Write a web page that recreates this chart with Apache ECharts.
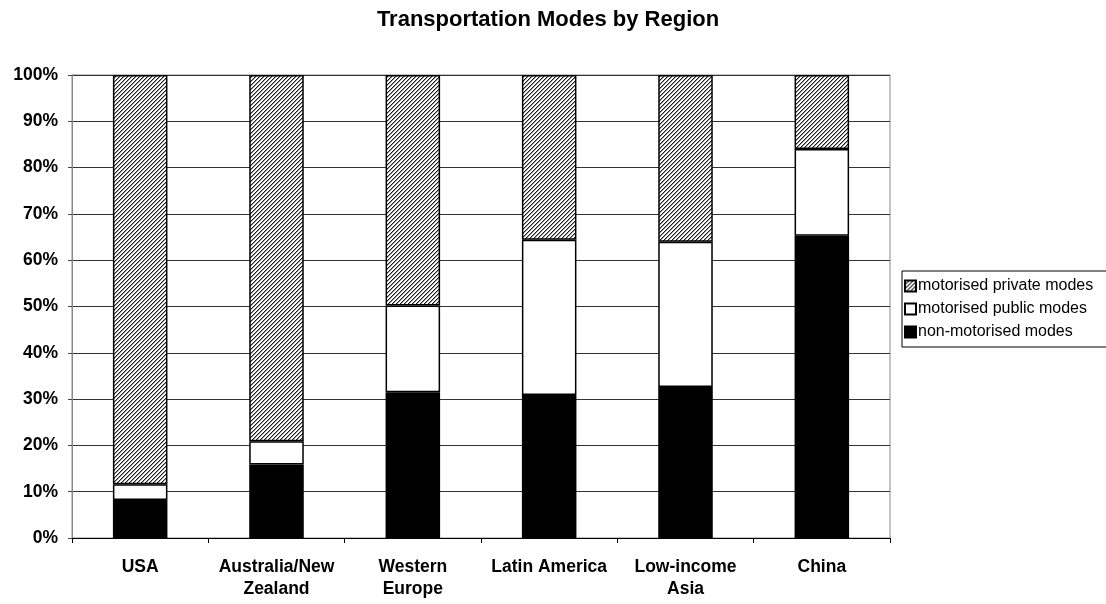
<!DOCTYPE html>
<html>
<head>
<meta charset="utf-8">
<script src="https://cdn.jsdelivr.net/npm/echarts@6/dist/echarts.min.js"></script>
<style>
  html, body { margin: 0; padding: 0; background: #fff; }
  #chart { width: 1106px; height: 604px; }
</style>
</head>
<body>
<div id="chart"></div>
<script>
// Share of trips by mode, in percent
const regions = ['USA', 'Australia/New\nZealand', 'Western\nEurope', 'Latin America', 'Low-income\nAsia', 'China'];
const nonMotorised = [8.2, 15.9, 31.5, 30.9, 32.6, 65.3];
const motorisedPublic = [3.4, 5.0, 18.7, 33.5, 31.4, 18.7];
const motorisedPrivate = [88.4, 79.1, 49.8, 35.6, 36.0, 16.0];
const seriesNames = ['non-motorised modes', 'motorised public modes', 'motorised private modes'];
const yTicks = [0, 10, 20, 30, 40, 50, 60, 70, 80, 90, 100];

// Fine diagonal hatch used for private modes
function hatch() {
  const c = document.createElement('canvas');
  c.width = 4; c.height = 4;
  const g = c.getContext('2d');
  g.fillStyle = '#ffffff';
  g.fillRect(0, 0, 4, 4);
  for (let i = 0; i < 4; i++) {
    g.fillStyle = '#1a1a1a';
    g.fillRect(i, 3 - i, 1, 1);
    g.fillStyle = '#9a9a9a';
    g.fillRect((i + 1) % 4, 3 - i, 1, 1);
  }
  return c;
}

const font = 'Liberation Sans, Arial, sans-serif';
const chart = echarts.init(document.getElementById('chart'), null, { renderer: 'canvas' });

const fills = ['#000000', '#ffffff', { image: hatch(), repeat: 'repeat' }];
const values = [nonMotorised, motorisedPublic, motorisedPrivate];

chart.setOption({
  animation: false,
  backgroundColor: '#ffffff',
  title: {
    text: 'Transportation Modes by Region',
    left: 543, top: 4, textAlign: 'center',
    textStyle: { fontFamily: font, fontWeight: 'bold', fontSize: 22, color: '#000' }
  },
  legend: {
    orient: 'vertical',
    left: 902, top: 271,
    data: [seriesNames[2], seriesNames[1], seriesNames[0]],
    icon: 'rect',
    itemWidth: 11, itemHeight: 11, itemGap: 7,
    padding: [7, 30, 7, 2],
    borderColor: '#000', borderWidth: 1,
    textStyle: { fontFamily: font, fontSize: 16, color: '#000', padding: [0, 0, 0, -3] }
  },
  grid: {
    left: 72, right: 216, top: 75, bottom: 66,
    show: true, borderColor: '#888', borderWidth: 1
  },
  xAxis: {
    type: 'category',
    data: regions,
    axisLine: { lineStyle: { color: '#000', width: 1 } },
    axisTick: { show: true, length: 5, lineStyle: { color: '#000' } },
    axisLabel: {
      interval: 0, margin: 18, color: '#000',
      fontFamily: font, fontWeight: 'bold', fontSize: 17.5, lineHeight: 22
    }
  },
  yAxis: {
    type: 'value', min: 0, max: 100, interval: 10,
    axisLine: { show: true, lineStyle: { color: '#888' } },
    axisTick: { show: true, length: 4, lineStyle: { color: '#444' } },
    splitLine: { lineStyle: { color: '#333', width: 1 } },
    axisLabel: {
      margin: 14, color: '#000', fontFamily: font, fontWeight: 'bold', fontSize: 17.5,
      formatter: v => yTicks.includes(v) ? v + '%' : ''
    }
  },
  series: values.map((vals, i) => ({
    name: seriesNames[i],
    type: 'bar',
    stack: 'modes',
    barWidth: '40%',
    data: vals,
    itemStyle: { color: fills[i], borderColor: '#000', borderWidth: 1.5 },
    emphasis: { disabled: true }
  }))
});
</script>
</body>
</html>
